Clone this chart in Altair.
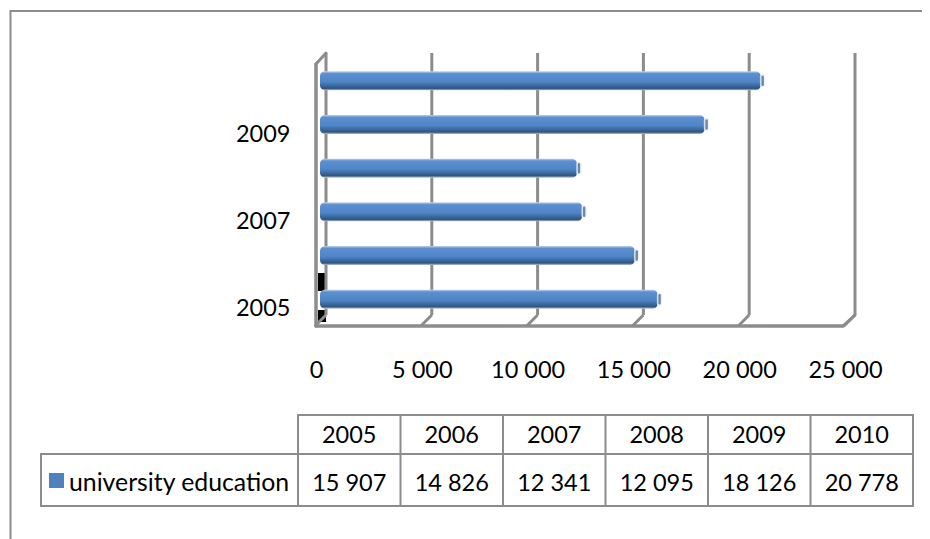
import altair as alt
import pandas as pd

years = [2005, 2006, 2007, 2008, 2009, 2010]
values = [15907, 14826, 12341, 12095, 18126, 20778]
series_name = "university education"
x_ticks = [0, 5000, 10000, 15000, 20000, 25000]
y_labels = [2005, 2007, 2009]

FONT = "Lato"
GREY = "#8c8c8c"
FS = 23.5

df = pd.DataFrame({"year": years, "value": values})
ticks = pd.DataFrame({"tick": x_ticks})
x_scale = alt.Scale(domain=[0, 25000], nice=False, zero=True)
y_scale = alt.Scale(domain=years[::-1], paddingInner=0.6, paddingOuter=0.3)
SPACE = "replace(format(%s, ','), ',', ' ')"


def V(px):  # page x to view x
    return alt.value(px - 326)


def H(py):  # page y to view y
    return alt.value(py - 59)


def seg(x1, y1, x2, y2, width=3, color=GREY):
    return alt.Chart().mark_rule(color=color, strokeWidth=width, strokeCap="round").encode(
        x=V(x1), x2=V(x2), y=H(y1), y2=H(y2))


def box(x1, y1, x2, y2, color):
    return alt.Chart().mark_rect(color=color).encode(x=V(x1), x2=V(x2), y=H(y1), y2=H(y2))


# outer frame
frame = [seg(10.5, 11, 922, 11, 2), seg(10.5, 11, 10.5, 539, 2)]

# 3D walls
walls = [
    seg(316, 64, 316, 326, 3.5),
    seg(316, 64, 326, 53, 3),
    seg(316, 326, 843, 326, 3.5),
    seg(843, 326, 855, 315, 3),
    box(318, 273, 326, 291, "#000000"),
    box(318, 310, 326, 322, "#000000"),
]

grid = alt.Chart(ticks).mark_rule(color=GREY, strokeWidth=3).encode(
    x=alt.X("tick:Q", scale=x_scale, axis=None), y=H(53), y2=H(315))
feet = alt.Chart(ticks).mark_rule(color=GREY, strokeWidth=3, x2Offset=-11).encode(
    x=alt.X("tick:Q", scale=x_scale, axis=None), x2=alt.X2("tick:Q"), y=H(315), y2=H(326))

grad = alt.Gradient(
    gradient="linear", x1=0, x2=0, y1=0, y2=1,
    stops=[
        alt.GradientStop(offset=0, color="#c3d3e8"),
        alt.GradientStop(offset=0.12, color="#5b8fd0"),
        alt.GradientStop(offset=0.55, color="#4f86c8"),
        alt.GradientStop(offset=0.9, color="#2f5480"),
        alt.GradientStop(offset=1, color="#b8c4d4"),
    ],
)

y_enc = alt.Y("year:O", scale=y_scale, sort=years[::-1], title=None, axis=alt.Axis(
    values=y_labels, domain=False, ticks=False, labelFont=FONT, labelFontSize=FS,
    labelColor="#000000", labelPadding=36, labelOffset=10, labelAngle=0))

bars = alt.Chart(df).mark_bar(size=19, fill=grad, cornerRadius=5, xOffset=-5).encode(
    x=alt.X("value:Q", scale=x_scale, title=None, stack=None, axis=alt.Axis(
        values=x_ticks, grid=False, domain=False, ticks=False, labelFont=FONT,
        labelFontSize=FS, labelColor="#000000", labelPadding=37, labelOffset=-10,
        labelFlush=False, labelOverlap=False,
        labelExpr=SPACE % "datum.value")),
    x2=alt.value(-6),
    y=y_enc,
)
caps = alt.Chart(df).mark_tick(
    color="#33557f", size=12, thickness=4, cornerRadius=2, xOffset=-3,
    stroke="#e8eef6", strokeWidth=1.5).encode(
    x=alt.X("value:Q", scale=x_scale, axis=None),
    y=y_enc,
)

# data table
table_lines = [
    seg(298, 415, 913, 415, 2),
    seg(41, 454, 913, 454, 2),
    seg(41, 506, 913, 506, 2),
    seg(41, 454, 41, 506, 2),
] + [seg(x, 415, x, 506, 2) for x in (298, 400.5, 503, 605.5, 708, 810.5, 913)]

col_scale = alt.Scale(type="band", domain=[str(y) for y in years], range=[298 - 326, 913 - 326])
tdf = pd.DataFrame({"year": [str(y) for y in years], "value": values})
head = alt.Chart(tdf).mark_text(font=FONT, fontSize=FS, color="#000000", baseline="middle").encode(
    x=alt.X("year:N", scale=col_scale, axis=None), y=H(436), text="year:N")
cells = alt.Chart(tdf).transform_calculate(label=SPACE % "datum.value").mark_text(
    font=FONT, fontSize=FS, color="#000000", baseline="middle").encode(
    x=alt.X("year:N", scale=col_scale, axis=None), y=H(484), text="label:N")
swatch = box(49, 473, 64, 488, "#4f81bd")
legend = alt.Chart(pd.DataFrame({"name": [series_name]})).mark_text(
    font=FONT, fontSize=24.8, color="#000000", align="left", baseline="middle").encode(
    x=V(69), y=H(484), text="name:N")

layers = frame + walls + [grid, feet, bars, caps] + table_lines + [swatch, legend, head, cells]
chart = alt.layer(*layers).resolve_scale(x="independent").properties(
    width=529, height=262, background="#ffffff",
    padding={"left": 318, "top": 51, "right": 67, "bottom": 218},
    autosize="none",
).configure_view(stroke=None)

chart.save("out.html", embed_options={"renderer": "svg", "actions": False})
